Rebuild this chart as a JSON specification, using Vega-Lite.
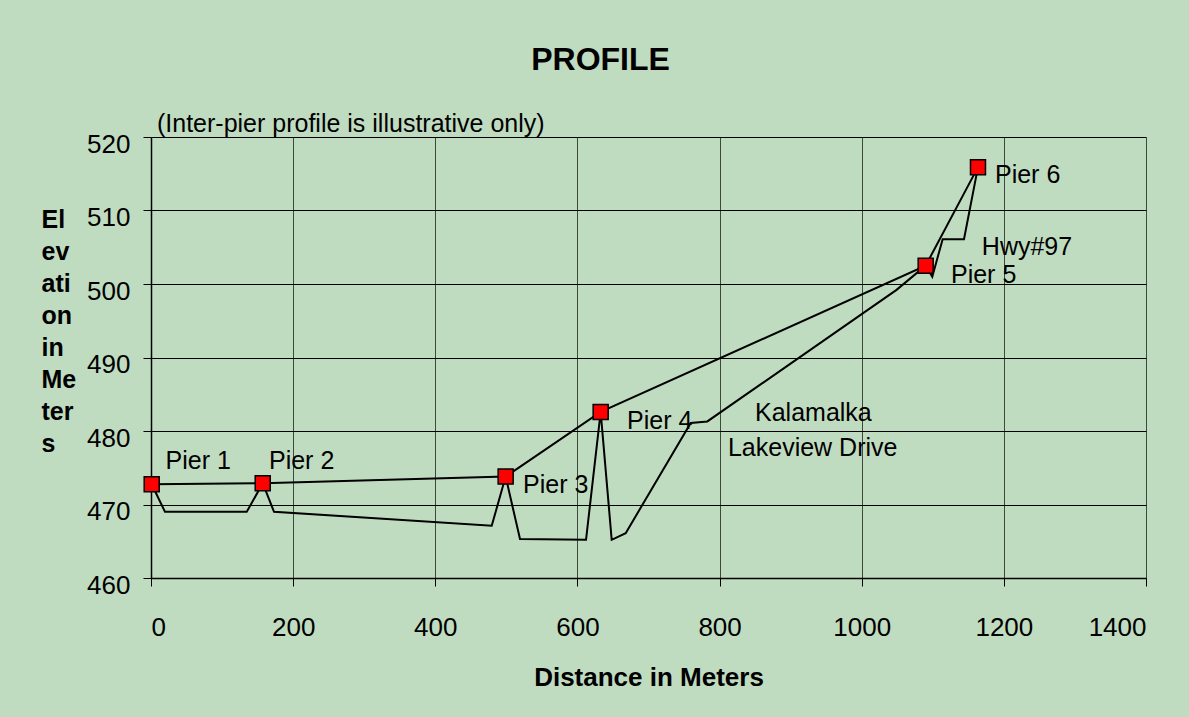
{
  "$schema": "https://vega.github.io/schema/vega-lite/v6.json",
  "width": 995,
  "height": 441,
  "autosize": {"type": "none"},
  "padding": {"left": 151, "top": 137, "right": 43, "bottom": 139},
  "background": "#C0DCC0",
  "title": {
    "text": "PROFILE",
    "fontSize": 32,
    "fontWeight": "bold",
    "font": "Liberation Sans",
    "color": "#000000",
    "anchor": "middle",
    "dx": -48,
    "offset": 35
  },
  "config": {
    "view": {"stroke": null},
    "font": "Liberation Sans"
  },
  "datasets": {
    "ground": [
      {"distance": 1, "elevation": 472.75},
      {"distance": 19.7, "elevation": 469.0},
      {"distance": 134.7, "elevation": 469.0},
      {"distance": 157.2, "elevation": 472.9},
      {"distance": 173.1, "elevation": 469.0},
      {"distance": 479.4, "elevation": 467.1},
      {"distance": 499, "elevation": 473.8},
      {"distance": 519.2, "elevation": 465.3},
      {"distance": 612.1, "elevation": 465.2},
      {"distance": 632.7, "elevation": 482.6},
      {"distance": 648.2, "elevation": 465.2},
      {"distance": 667.9, "elevation": 466.1},
      {"distance": 759.4, "elevation": 481.1},
      {"distance": 782.8, "elevation": 481.3},
      {"distance": 1049, "elevation": 499.2},
      {"distance": 1090, "elevation": 502.5},
      {"distance": 1099.3, "elevation": 501.0},
      {"distance": 1113.9, "elevation": 506.1},
      {"distance": 1143.9, "elevation": 506.1},
      {"distance": 1163.6, "elevation": 515.9}
    ],
    "piers": [
      {"pier": "Pier 1", "distance": 1, "elevation": 472.75},
      {"pier": "Pier 2", "distance": 157.2, "elevation": 472.9},
      {"pier": "Pier 3", "distance": 499, "elevation": 473.8},
      {"pier": "Pier 4", "distance": 632.7, "elevation": 482.6},
      {"pier": "Pier 5", "distance": 1090, "elevation": 502.5},
      {"pier": "Pier 6", "distance": 1163.6, "elevation": 515.9}
    ],
    "leftLabels": [
      {"label": "Pier 1", "distance": 20.5, "elevation": 475.9},
      {"label": "Pier 2", "distance": 166, "elevation": 475.9},
      {"label": "Pier 3", "distance": 523.5, "elevation": 472.7},
      {"label": "Pier 4", "distance": 669.8, "elevation": 481.4},
      {"label": "Pier 5", "distance": 1125.6, "elevation": 501.2},
      {"label": "Pier 6", "distance": 1187.5, "elevation": 514.8},
      {"label": "Hwy#97", "distance": 1169, "elevation": 505.1},
      {"label": "(Inter-pier profile is illustrative only)", "distance": 8.4, "elevation": 521.8}
    ],
    "centerLabels": [
      {"label": "Kalamalka", "distance": 932, "elevation": 482.4},
      {"label": "Lakeview Drive", "distance": 931, "elevation": 477.7}
    ]
  },
  "layer": [
    {
      "data": {"name": "ground"},
      "mark": {"type": "line", "color": "#000000", "strokeWidth": 2},
      "encoding": {
        "x": {
          "field": "distance",
          "type": "quantitative",
          "scale": {"domain": [0, 1400], "nice": false},
          "axis": {
            "values": [0, 200, 400, 600, 800, 1000, 1200, 1400],
            "format": "d",
            "grid": true,
            "gridColor": "#3c4a3c",
            "gridWidth": 1,
            "gridOpacity": 1,
            "domainColor": "#000000",
            "domainWidth": 1.5,
            "tickColor": "#000000",
            "tickSize": 8,
            "labelFontSize": 26,
            "labelColor": "#000000",
            "labelPadding": 28,
            "title": "Distance in Meters",
            "titleFontSize": 26,
            "titleFontWeight": "bold",
            "titleColor": "#000000",
            "titlePadding": 24
          }
        },
        "y": {
          "field": "elevation",
          "type": "quantitative",
          "scale": {"domain": [460, 520], "nice": false, "zero": false},
          "axis": {
            "values": [460, 470, 480, 490, 500, 510, 520],
            "format": "d",
            "grid": true,
            "gridColor": "#000000",
            "gridWidth": 1,
            "gridOpacity": 1,
            "domainColor": "#000000",
            "domainWidth": 1.5,
            "tickColor": "#000000",
            "tickSize": 8,
            "labelFontSize": 26,
            "labelColor": "#000000",
            "labelPadding": 13,
            "labelOffset": 7,
            "title": ["El", "ev", "ati", "on", "in", "Me", "ter", "s"],
            "titleFontSize": 25,
            "titleFontWeight": "bold",
            "titleColor": "#000000",
            "titleAngle": 0,
            "titleAlign": "left",
            "titleBaseline": "alphabetic",
            "titleX": -110,
            "titleY": 90,
            "titleLineHeight": 32
          }
        }
      }
    },
    {
      "data": {"name": "piers"},
      "mark": {"type": "line", "color": "#000000", "strokeWidth": 2},
      "encoding": {
        "x": {"field": "distance", "type": "quantitative"},
        "y": {"field": "elevation", "type": "quantitative"}
      }
    },
    {
      "data": {"name": "piers"},
      "mark": {"type": "point", "shape": "square", "filled": true, "fill": "#FF0000", "stroke": "#000000", "strokeWidth": 1.5, "size": 225, "opacity": 1},
      "encoding": {
        "x": {"field": "distance", "type": "quantitative"},
        "y": {"field": "elevation", "type": "quantitative"}
      }
    },
    {
      "data": {"name": "leftLabels"},
      "mark": {"type": "text", "align": "left", "baseline": "middle", "fontSize": 25, "color": "#000000", "font": "Liberation Sans"},
      "encoding": {
        "x": {"field": "distance", "type": "quantitative"},
        "y": {"field": "elevation", "type": "quantitative"},
        "text": {"field": "label"}
      }
    },
    {
      "data": {"name": "centerLabels"},
      "mark": {"type": "text", "align": "center", "baseline": "middle", "fontSize": 25, "color": "#000000", "font": "Liberation Sans"},
      "encoding": {
        "x": {"field": "distance", "type": "quantitative"},
        "y": {"field": "elevation", "type": "quantitative"},
        "text": {"field": "label"}
      }
    }
  ]
}
